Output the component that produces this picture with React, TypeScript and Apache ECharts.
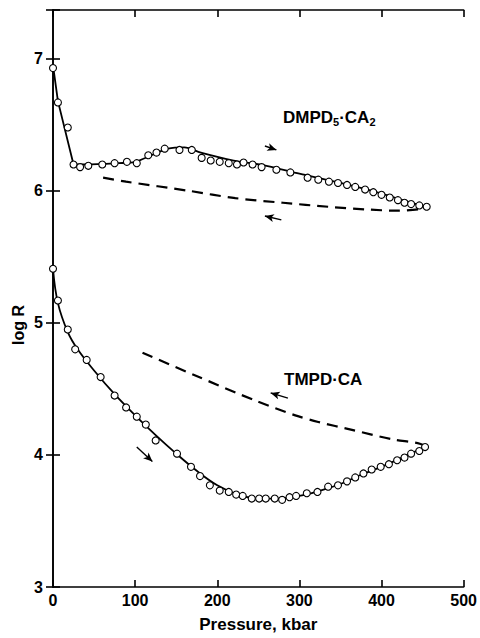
import React, { useEffect, useRef } from "react";
import * as echarts from "echarts";

// DMPD5·CA2, increasing pressure: measured points (circles)
const dmpdUpP = [0, 6, 18, 25, 33, 43, 60, 75, 90, 102, 116, 126, 136, 154, 169, 181, 192, 203, 214, 224, 232, 243, 254, 272, 289, 310, 323, 336, 347, 358, 368, 380, 390, 400, 410, 420, 428, 436, 446, 455];
const dmpdUpR = [6.93, 6.67, 6.48, 6.2, 6.18, 6.19, 6.2, 6.21, 6.22, 6.21, 6.27, 6.29, 6.32, 6.31, 6.31, 6.25, 6.23, 6.22, 6.21, 6.2, 6.215, 6.2, 6.18, 6.16, 6.14, 6.1, 6.085, 6.07, 6.06, 6.045, 6.03, 6.01, 5.99, 5.97, 5.95, 5.93, 5.91, 5.9, 5.89, 5.88];
// DMPD5·CA2, increasing pressure: drawn curve (solid), steep initial drop then smooth part
const dmpdDropP = [0, 6, 25];
const dmpdDropR = [6.95, 6.68, 6.2];
const dmpdCurveP = [25, 40, 80, 100, 120, 140, 160, 180, 220, 260, 300, 350, 400, 430, 455];
const dmpdCurveR = [6.2, 6.2, 6.21, 6.22, 6.27, 6.32, 6.33, 6.29, 6.23, 6.19, 6.13, 6.06, 5.98, 5.92, 5.88];
// DMPD5·CA2, decreasing pressure (dashed)
const dmpdDownP = [61, 89, 166, 222, 280, 335, 380, 420, 445, 455];
const dmpdDownR = [6.1, 6.07, 6.0, 5.945, 5.91, 5.88, 5.86, 5.85, 5.86, 5.88];

// TMPD·CA, increasing pressure: measured points (circles)
const tmpdUpP = [0, 6, 18, 27, 41, 58, 75, 89, 102, 113, 125, 151, 168, 179, 191, 203, 214, 223, 231, 242, 251, 259, 270, 279, 288, 296, 309, 322, 335, 347, 358, 368, 378, 388, 399, 409, 419, 428, 436, 446, 453];
const tmpdUpR = [5.41, 5.17, 4.95, 4.8, 4.72, 4.59, 4.45, 4.36, 4.29, 4.23, 4.11, 4.01, 3.91, 3.84, 3.77, 3.73, 3.72, 3.7, 3.69, 3.67, 3.67, 3.67, 3.67, 3.66, 3.68, 3.69, 3.71, 3.72, 3.76, 3.77, 3.8, 3.83, 3.86, 3.89, 3.91, 3.93, 3.96, 3.98, 4.01, 4.03, 4.06];
// TMPD·CA, increasing pressure: drawn curve (solid)
const tmpdCurveP = [0, 6, 18, 30, 50, 75, 100, 125, 150, 175, 200, 225, 250, 275, 300, 325, 350, 375, 400, 425, 453];
const tmpdCurveR = [5.41, 5.15, 4.93, 4.8, 4.64, 4.46, 4.3, 4.15, 4.01, 3.88, 3.77, 3.7, 3.67, 3.67, 3.69, 3.73, 3.78, 3.85, 3.91, 3.98, 4.06];
// TMPD·CA, decreasing pressure (dashed)
const tmpdDownP = [109, 174, 247, 295, 323, 364, 412, 444, 453];
const tmpdDownR = [4.775, 4.6, 4.41, 4.3, 4.25, 4.19, 4.12, 4.09, 4.07];

// direction arrows: [x1, y1, x2, y2]
const arrows = [
  [258, 6.34, 272, 6.31],
  [278, 5.78, 258, 5.81],
  [102, 4.06, 121, 3.95],
  [286, 4.43, 265, 4.47],
];

const xTicks = [0, 100, 200, 300, 400, 500];
const yTicks = [3, 4, 5, 6, 7];

const FONT = "'Liberation Sans', Arial, Helvetica, sans-serif";

const zip = (a: number[], b: number[]) => a.map((v, i) => [v, b[i]]);

export default function App() {
  const ref = useRef<HTMLDivElement>(null);
  useEffect(() => {
    if (!ref.current) return;
    const chart = echarts.init(ref.current, null, { renderer: "svg" });
    const axisLine = { show: true, lineStyle: { color: "#000", width: 1.6 } };
    const axisTick = { show: true, inside: true, length: 7, lineStyle: { color: "#000", width: 1.6 } };
    const labelStyle = { color: "#000", fontFamily: FONT, fontWeight: "bold" as const, fontSize: 16 };
    const curveSeries = (data: number[][], smooth: number) => ({
      type: "line",
      data,
      smooth,
      symbol: "none",
      lineStyle: { color: "#000", width: 1.8 },
      z: 2,
    });
    const circleSeries = (data: number[][]) => ({
      type: "scatter",
      data,
      symbol: "circle",
      symbolSize: 7,
      itemStyle: { color: "#fff", borderColor: "#000", borderWidth: 1.1, opacity: 1 },
      z: 4,
    });
    const dashSeries = (data: number[][]) => ({
      type: "line",
      data,
      smooth: 0.3,
      symbol: "none",
      lineStyle: { color: "#000", width: 2.2, type: [11, 7] },
      z: 2,
    });
    chart.setOption({
      animation: false,
      backgroundColor: "#fff",
      grid: { left: 53, right: 14, top: 10, bottom: 47, containLabel: false },
      xAxis: [
        {
          type: "value",
          min: xTicks[0],
          max: xTicks[xTicks.length - 1],
          interval: 100,
          position: "bottom",
          axisLine,
          axisTick,
          splitLine: { show: false },
          axisLabel: { ...labelStyle, margin: 5 },
          name: "Pressure, kbar",
          nameLocation: "middle",
          nameGap: 29,
          nameTextStyle: { ...labelStyle, fontSize: 17 },
        },
        {
          type: "value",
          min: xTicks[0],
          max: xTicks[xTicks.length - 1],
          interval: 100,
          position: "top",
          axisLine,
          axisTick,
          splitLine: { show: false },
          axisLabel: { show: false },
        },
      ],
      yAxis: [
        {
          type: "value",
          min: yTicks[0],
          max: 7.37,
          interval: 1,
          position: "left",
          axisLine,
          axisTick,
          splitLine: { show: false },
          axisLabel: {
            ...labelStyle,
            margin: 10,
            formatter: (v: number) => (yTicks.includes(v) ? String(v) : ""),
          },
        },
        {
          type: "value",
          min: yTicks[0],
          max: 7.37,
          interval: 1,
          position: "right",
          axisLine,
          axisTick,
          splitLine: { show: false },
          axisLabel: { show: false },
        },
      ],
      graphic: [
        {
          type: "text",
          x: 18,
          y: 325,
          rotation: Math.PI / 2,
          style: {
            text: "log R",
            fill: "#000",
            font: `bold 16px ${FONT}`,
            align: "center",
            verticalAlign: "middle",
          },
        },
        {
          type: "text",
          x: 283,
          y: 117,
          style: {
            text: "{a|DMPD}{s|5}{a|·CA}{s|2}",
            verticalAlign: "middle",
            rich: {
              a: { fontFamily: FONT, fontWeight: "bold", fontSize: 17, fill: "#000", lineHeight: 20, verticalAlign: "middle" },
              s: { fontFamily: FONT, fontWeight: "bold", fontSize: 11, fill: "#000", lineHeight: 20, verticalAlign: "bottom", padding: [9, 0, 0, 0] },
            },
          },
        },
        {
          type: "text",
          x: 284,
          y: 379,
          style: {
            text: "TMPD·CA",
            fill: "#000",
            font: `bold 17px ${FONT}`,
            verticalAlign: "middle",
          },
        },
      ],
      series: [
        curveSeries(zip(dmpdDropP, dmpdDropR), 0),
        curveSeries(zip(dmpdCurveP, dmpdCurveR), 0.3),
        circleSeries(zip(dmpdUpP, dmpdUpR)),
        dashSeries(zip(dmpdDownP, dmpdDownR)),
        curveSeries(zip(tmpdCurveP, tmpdCurveR), 0.4),
        circleSeries(zip(tmpdUpP, tmpdUpR)),
        dashSeries(zip(tmpdDownP, tmpdDownR)),
        {
          type: "line",
          data: [],
          markLine: {
            silent: true,
            symbol: ["none", "arrow"],
            symbolSize: [6, 9],
            label: { show: false },
            lineStyle: { color: "#000", width: 1.4, type: "solid" },
            data: arrows.map((a) => [
              { coord: [a[0], a[1]] },
              { coord: [a[2], a[3]] },
            ]),
          },
        },
      ],
    });
    return () => chart.dispose();
  }, []);
  return <div ref={ref} style={{ width: 480, height: 638, position: "absolute", left: 0, top: 0 }} />;
}
